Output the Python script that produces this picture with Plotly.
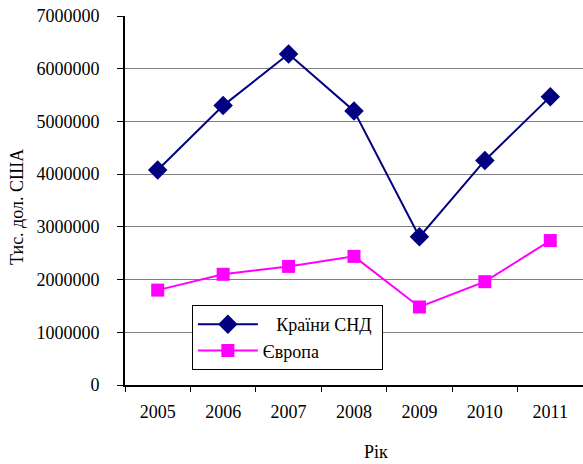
import plotly.graph_objects as go

years = ["2005", "2006", "2007", "2008", "2009", "2010", "2011"]
cis = [4080000, 5300000, 6280000, 5200000, 2810000, 4260000, 5470000]
europe = [1800000, 2100000, 2250000, 2440000, 1480000, 1960000, 2740000]
y_ticks = [0, 1000000, 2000000, 3000000, 4000000, 5000000, 6000000, 7000000]

FONT = "'Liberation Serif', 'Times New Roman', serif"

fig = go.Figure()
fig.add_trace(go.Scatter(
    x=years, y=cis, mode="lines+markers",
    name="\u00a0\u00a0\u00a0Країни СНД\u00a0",
    line=dict(color="#000080", width=2),
    marker=dict(symbol="diamond", size=15, color="#000080"),
))
fig.add_trace(go.Scatter(
    x=years, y=europe, mode="lines+markers",
    name="Європа",
    line=dict(color="#FF00FF", width=2),
    marker=dict(symbol="square", size=13, color="#FF00FF"),
))

fig.update_layout(
    width=583, height=464,
    margin=dict(l=125, r=0, t=16, b=79),
    paper_bgcolor="white", plot_bgcolor="white",
    font=dict(family=FONT, size=18, color="black"),
    showlegend=True,
    legend=dict(
        x=0.146, y=0.217, xanchor="left", yanchor="top",
        bgcolor="white", bordercolor="black", borderwidth=1,
        font=dict(family=FONT, size=18, color="black"),
        tracegroupgap=0, itemwidth=60,
    ),
    xaxis=dict(
        type="category", range=[-0.5, 6.5], automargin=False,
        showline=True, linecolor="black", linewidth=2,
        ticks="outside", ticklen=5, tickcolor="black", tickson="boundaries",
        showgrid=False, zeroline=False,
        tickfont=dict(family=FONT, size=18),
        ticklabelstandoff=9,
    ),
    yaxis=dict(
        range=[0, 7000000], tickvals=y_ticks, automargin=False,
        ticktext=[str(v) for v in y_ticks],
        showline=True, linecolor="black", linewidth=2,
        ticks="outside", ticklen=6, tickcolor="black",
        showgrid=True, gridcolor="#808080", gridwidth=1,
        zeroline=False,
        tickfont=dict(family=FONT, size=18),
        ticklabelstandoff=14,
    ),
    annotations=[
        dict(text="Тис. дол. США", xref="paper", yref="paper",
             x=-0.236, y=0.482, xanchor="center", yanchor="middle",
             textangle=-90, showarrow=False,
             font=dict(family=FONT, size=18, color="black")),
        dict(text="Рік", xref="paper", yref="paper",
             x=0.548, y=-0.182, xanchor="center", yanchor="middle",
             showarrow=False,
             font=dict(family=FONT, size=18, color="black")),
    ],
)

fig.write_html(
    "out.html",
    config={"displayModeBar": False},
    post_script="document.body.style.margin='0';document.body.style.padding='0';",
)
